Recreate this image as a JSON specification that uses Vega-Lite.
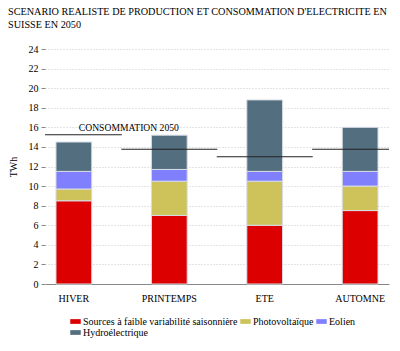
{
  "$schema": "https://vega.github.io/schema/vega-lite/v6.json",
  "width": 344,
  "height": 235,
  "padding": {"left": 8, "top": 6, "right": 12, "bottom": 5},
  "title": {
    "text": ["SCENARIO REALISTE DE PRODUCTION ET CONSOMMATION D'ELECTRICITE EN", "SUISSE EN 2050"],
    "anchor": "start",
    "frame": "bounds",
    "fontSize": 10.2,
    "fontWeight": "normal",
    "color": "#000",
    "lineHeight": 13,
    "offset": 14
  },
  "datasets": {
    "prod": [
      {"saison": "HIVER", "source": "Sources à faible variabilité saisonnière", "ordre": 1, "twh": 8.5},
      {"saison": "HIVER", "source": "Photovoltaïque", "ordre": 2, "twh": 1.2},
      {"saison": "HIVER", "source": "Eolien", "ordre": 3, "twh": 1.8},
      {"saison": "HIVER", "source": "Hydroélectrique", "ordre": 4, "twh": 3.0},
      {"saison": "PRINTEMPS", "source": "Sources à faible variabilité saisonnière", "ordre": 1, "twh": 7.0},
      {"saison": "PRINTEMPS", "source": "Photovoltaïque", "ordre": 2, "twh": 3.5},
      {"saison": "PRINTEMPS", "source": "Eolien", "ordre": 3, "twh": 1.2},
      {"saison": "PRINTEMPS", "source": "Hydroélectrique", "ordre": 4, "twh": 3.5},
      {"saison": "ETE", "source": "Sources à faible variabilité saisonnière", "ordre": 1, "twh": 6.0},
      {"saison": "ETE", "source": "Photovoltaïque", "ordre": 2, "twh": 4.5},
      {"saison": "ETE", "source": "Eolien", "ordre": 3, "twh": 1.0},
      {"saison": "ETE", "source": "Hydroélectrique", "ordre": 4, "twh": 7.3},
      {"saison": "AUTOMNE", "source": "Sources à faible variabilité saisonnière", "ordre": 1, "twh": 7.5},
      {"saison": "AUTOMNE", "source": "Photovoltaïque", "ordre": 2, "twh": 2.5},
      {"saison": "AUTOMNE", "source": "Eolien", "ordre": 3, "twh": 1.5},
      {"saison": "AUTOMNE", "source": "Hydroélectrique", "ordre": 4, "twh": 4.5}
    ],
    "conso": [
      {"saison": "HIVER", "twh": 15.25},
      {"saison": "PRINTEMPS", "twh": 13.75},
      {"saison": "ETE", "twh": 13.0},
      {"saison": "AUTOMNE", "twh": 13.75}
    ]
  },
  "encoding": {
    "x": {
      "field": "saison", "type": "nominal",
      "sort": ["HIVER", "PRINTEMPS", "ETE", "AUTOMNE"],
      "scale": {"paddingInner": 0.625, "paddingOuter": 0.115},
      "axis": {"title": null, "labelAngle": 0, "ticks": false, "domainColor": "#888", "labelPadding": 9, "labelFontSize": 10, "labelColor": "#000", "grid": false}
    },
    "y": {
      "field": "twh", "type": "quantitative",
      "scale": {"domain": [0, 24], "nice": false},
      "axis": {"title": "TWh", "values": [0, 2, 4, 6, 8, 10, 12, 14, 16, 18, 20, 22, 24], "labelOverlap": false, "domain": false, "tickColor": "#888", "tickSize": 4, "labelPadding": 3, "labelFontSize": 10, "labelColor": "#000", "titleFontSize": 10, "titleFontWeight": "normal", "titleColor": "#000", "titlePadding": 10, "grid": true, "gridDash": [1, 2], "gridColor": "#c8c8c8"}
    }
  },
  "layer": [
    {
      "data": {"name": "prod"},
      "mark": {"type": "bar", "stroke": "#d8dde6", "strokeWidth": 1},
      "encoding": {
        "color": {
          "field": "source", "type": "nominal",
          "sort": ["Sources à faible variabilité saisonnière", "Photovoltaïque", "Eolien", "Hydroélectrique"],
          "scale": {
            "domain": ["Sources à faible variabilité saisonnière", "Photovoltaïque", "Eolien", "Hydroélectrique"],
            "range": ["#dd0000", "#cdc35a", "#8080ff", "#536e7f"]
          },
          "legend": {
            "title": null,
            "orient": "none",
            "direction": "horizontal",
            "columns": 3,
            "gridAlign": "none",
            "legendX": 25,
            "legendY": 267,
            "symbolType": "M-1,-0.45H1V0.45H-1Z",
            "symbolSize": 110,
            "symbolStrokeWidth": 0,
            "symbolOpacity": 1,
            "labelFontSize": 10,
            "labelLimit": 400,
            "labelColor": "#000",
            "labelOffset": 2,
            "columnPadding": 2,
            "rowPadding": 0
          }
        },
        "order": {"field": "ordre", "type": "quantitative"}
      }
    },
    {
      "data": {"name": "conso"},
      "mark": {"type": "tick", "orient": "horizontal", "clip": true, "thickness": 1, "color": "#222", "opacity": 1},
      "encoding": {
        "size": {"value": 96}
      }
    },
    {
      "data": {"name": "conso"},
      "transform": [{"filter": "datum.saison == 'HIVER'"}],
      "mark": {"type": "text", "align": "left", "baseline": "bottom", "dx": 5, "dy": -2, "fontSize": 9.6, "color": "#000"},
      "encoding": {
        "text": {"value": "CONSOMMATION 2050"}
      }
    }
  ],
  "config": {
    "font": "Liberation Serif",
    "view": {"stroke": null},
    "axis": {"labelFont": "Liberation Serif", "titleFont": "Liberation Serif"},
    "legend": {"labelFont": "Liberation Serif"},
    "title": {"font": "Liberation Serif"},
    "text": {"font": "Liberation Serif"}
  }
}
